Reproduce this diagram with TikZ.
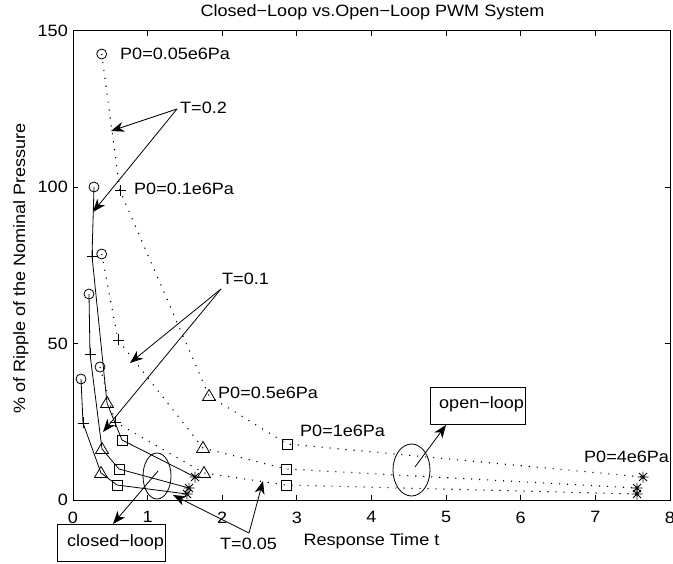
\documentclass[tikz,border=0pt]{standalone}
\usepackage{fontspec}
\setmainfont{Liberation Sans}[FakeStretch=1.1]
\usetikzlibrary{arrows.meta,shapes.geometric}
\tikzset{
  lbl/.style={font=\fontsize{16.4}{19}\selectfont, inner sep=0pt},
  solidln/.style={line width=0.8pt},
  dotln/.style={line width=1.1pt, dash pattern=on 1.1pt off 6.9pt},
  annarrow/.style={line width=0.8pt, -{Stealth[length=13pt,width=10pt,inset=4pt]}},
  axisln/.style={line width=1pt},
  mk/.style={line width=0.8pt},
  ovl/.style={draw, ellipse, line width=0.8pt, inner sep=0pt},
  tbox/.style={draw, line width=0.8pt, inner sep=0pt}
}
\newcommand\mkO[1]{\draw[mk] (#1) circle[radius=5pt];}
\newcommand\mkP[1]{\draw[mk,shift={(#1)}] (-5.5pt,0pt) -- (5.5pt,0pt) (0pt,-5.5pt) -- (0pt,5.5pt);}
\newcommand\mkT[1]{\draw[mk,shift={(#1)}] (0pt,6.5pt) -- (6.5pt,-4.5pt) -- (-6.5pt,-4.5pt) -- cycle;}
\newcommand\mkS[1]{\draw[mk,shift={(#1)}] (-5pt,-5pt) rectangle (5pt,5pt);}
\newcommand\mkA[1]{\draw[mk,shift={(#1)}] (-5.5pt,0pt) -- (5.5pt,0pt) (0pt,-5.5pt) -- (0pt,5.5pt) (-4pt,-4pt) -- (4pt,4pt) (-4pt,4pt) -- (4pt,-4pt);}
\begin{document}
\begin{tikzpicture}[x=1pt,y=-1pt]
\useasboundingbox (0,0) rectangle (673,564);
% frame and ticks
\draw[axisln] (73,31) rectangle (670,500);
\foreach \i in {0,...,8}{
  \pgfmathsetmacro\xx{73+74.625*\i}
  \draw[axisln] (\xx,500) -- (\xx,495) (\xx,31) -- (\xx,36);
  \node[lbl,anchor=north] at (\xx,511.5) {\i};
}
\foreach \v/\yy in {0/500,50/343.67,100/187.33,150/31}{
  \draw[axisln] (73,\yy) -- (78,\yy) (670,\yy) -- (665,\yy);
  \node[lbl,anchor=east] at (68,\yy) {\v};
}
% titles
\node[lbl,anchor=base] (title) at (372.5,17) {Closed−Loop vs.Open−Loop PWM System};
\node[lbl,anchor=base] (xlab) at (371.5,545) {Response Time t};
\node[lbl,anchor=base,rotate=90] (ylab) at (25,268.5) {\% of Ripple of the Nominal Pressure};
% data points: open loop
\coordinate (oa1) at (101.7,54);  \coordinate (oa2) at (120,190.7); \coordinate (oa3) at (209,396); \coordinate (oa4) at (287,444); \coordinate (oa5) at (643,477);
\coordinate (ob1) at (101.7,254); \coordinate (ob2) at (118,340);   \coordinate (ob3) at (203,448); \coordinate (ob4) at (286,469); \coordinate (ob5) at (637,488);
\coordinate (oc1) at (100,367);   \coordinate (oc2) at (115,422);   \coordinate (oc3) at (204,473); \coordinate (oc4) at (286,485); \coordinate (oc5) at (637,494);
% data points: closed loop
\coordinate (ca1) at (94,187); \coordinate (ca2) at (92,256); \coordinate (ca3) at (107,403); \coordinate (ca4) at (122,440); \coordinate (ca5) at (195,477);
\coordinate (cb1) at (89,294); \coordinate (cb2) at (90,354); \coordinate (cb3) at (102,449); \coordinate (cb4) at (119,469); \coordinate (cb5) at (189,488);
\coordinate (cc1) at (81,379); \coordinate (cc2) at (83,423); \coordinate (cc3) at (101,473); \coordinate (cc4) at (117,485); \coordinate (cc5) at (187,494);
% curves
\draw[dotln] (oa1) -- (oa2) -- (oa3) -- (oa4) -- (oa5);
\draw[dotln] (ob1) -- (ob2) -- (ob3) -- (ob4) -- (ob5);
\draw[dotln] (oc1) -- (oc2) -- (oc3) -- (oc4) -- (oc5);
\draw[solidln] (ca1) -- (ca2) -- (ca3) -- (ca4) -- (ca5);
\draw[solidln] (cb1) -- (cb2) -- (cb3) -- (cb4) -- (cb5);
\draw[solidln] (cc1) -- (cc2) -- (cc3) -- (cc4) -- (cc5);
% markers
\foreach \s in {oa,ob,oc,ca,cb,cc}{
  \mkO{\s1} \mkP{\s2} \mkT{\s3} \mkS{\s4} \mkA{\s5}
}
% pressure labels
\node[lbl,anchor=base west] (p1) at (120,60) {P0=0.05e6Pa};
\node[lbl,anchor=base west] (p2) at (134,195) {P0=0.1e6Pa};
\node[lbl,anchor=base west] (p3) at (218,399) {P0=0.5e6Pa};
\node[lbl,anchor=base west] (p4) at (300,436) {P0=1e6Pa};
\node[lbl,anchor=base west] (p5) at (584,463) {P0=4e6Pa};
% T annotations
\node[lbl,anchor=base west] (T2) at (180,114) {T=0.2};
\node[lbl,anchor=base west] (T1) at (222,285) {T=0.1};
\node[lbl,anchor=base west] (T05) at (220,549) {T=0.05};
\coordinate (t2s) at (177,109);
\coordinate (t2a) at (111,131);
\coordinate (t2b) at (93,212);
\draw[annarrow] (t2s) -- (t2a);
\draw[annarrow] (t2s) -- (t2b);
\coordinate (t1s) at (221,289);
\coordinate (t1a) at (130,363);
\coordinate (t1b) at (103,432);
\draw[annarrow] (t1s) -- (t1a);
\draw[annarrow] (t1s) -- (t1b);
\coordinate (t05s) at (249,533);
\coordinate (t05a) at (173,495);
\coordinate (t05b) at (263,481);
\draw[annarrow] (t05s) -- (t05a);
\draw[annarrow] (t05s) -- (t05b);
% closed-loop / open-loop
\node[ovl, minimum width=28pt, minimum height=46pt] (cel) at (157,476) {};
\node[ovl, minimum width=37pt, minimum height=52pt] (oel) at (411.5,470) {};
\node[tbox, minimum width=108pt, minimum height=37pt] (cbox) at (111,542.5) {};
\node[tbox, minimum width=95pt, minimum height=37pt] (obox) at (477.5,405.5) {};
\node[lbl,anchor=base west] (ctext) at (67,546.7) {closed−loop};
\node[lbl,anchor=base west] (otext) at (439,409) {open−loop};
\coordinate (cs) at (158,471);
\coordinate (ct) at (113,524);
\coordinate (os) at (415,467);
\coordinate (ot) at (446,425);
\draw[annarrow] (cs) -- (ct);
\draw[annarrow] (os) -- (ot);
\end{tikzpicture}
\end{document}
